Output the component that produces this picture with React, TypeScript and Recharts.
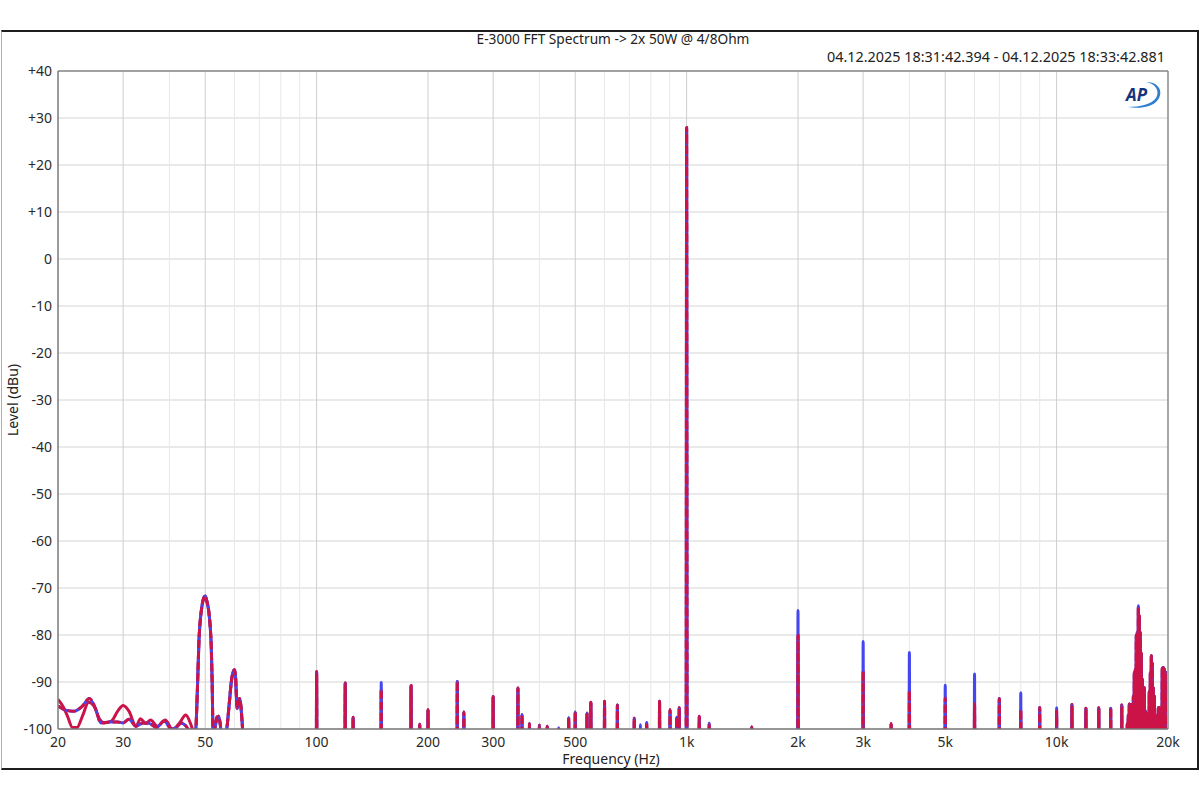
import React from 'react';
import { LineChart, Line, XAxis, YAxis, CartesianGrid, ReferenceLine } from 'recharts';

// ---- values ----
const freqTicks = [20, 30, 50, 100, 200, 300, 500, 1000, 2000, 3000, 5000, 10000, 20000];
const minorGridHz = [40, 60, 70, 80, 90, 400, 600, 700, 800, 900, 4000, 6000, 7000, 8000, 9000];
const majorGridHz = [30, 50, 100, 200, 300, 500, 1000, 2000, 3000, 5000, 10000];
const levelTicks = [-100, -90, -80, -70, -60, -50, -40, -30, -20, -10, 0, 10, 20, 30, 40];

// low frequency noise, solid trace
const lowSolidHz = [20, 20.6, 21.2, 21.9, 22.5, 23.3, 24.2, 25.0, 25.9, 26.7, 27.9, 29.0, 30.0, 31.1, 32.5, 33.4, 34.5, 35.6, 37.1, 39.0, 40.8, 42.6, 44.3, 45.9, 46.9];
const lowSolidDb = [-93.7, -95.1, -97.2, -99.7, -99.7, -97.2, -94.3, -95.1, -97.9, -98.7, -98.3, -96.2, -95.0, -96.2, -99.4, -97.8, -98.8, -98.1, -99.4, -98.1, -100.1, -98.7, -97.0, -99.4, -101.5];

// low frequency noise, dashed trace
const lowDashHz = [20, 21.0, 22.1, 23.3, 24.3, 25.3, 26.1, 27.6, 29.0, 30.0, 31.1, 32.5, 34.0, 35.3, 36.9, 38.7, 40.5, 41.7, 43.1, 44.4, 45.9];
const lowDashDb = [-95.1, -96.0, -96.2, -95.1, -93.5, -95.8, -98.7, -98.5, -98.5, -98.7, -97.9, -99.4, -98.7, -98.8, -99.7, -98.3, -100, -99.7, -98.7, -99.4, -101];

// mains hum lobes (50 / 60 Hz), same on all traces
const humHz = [47.1, 47.6, 48.1, 48.6, 49.0, 49.5, 50.0, 50.5, 51.1, 51.6, 51.9, 52.2, 52.5, 53.2, 53.8, 54.3, 54.9, 55.4,
  57.0, 58.0, 58.8, 59.4, 60.0, 60.4, 60.7, 61.0, 61.5, 61.9, 62.4, 62.9, 63.3];
const humDb = [-100.5, -92, -80.9, -76, -73.8, -72.2, -71.7, -72.8, -74.9, -78.5, -82.3, -90, -100.5, -99.5, -97.5, -97.3, -99, -102,
  -100.5, -95, -90, -88, -87.4, -89, -93, -95.6, -94.5, -93.5, -95, -98.5, -101.5];

// discrete lines: tone, harmonics, spurs
const toneHz = [100, 119.5, 125.5, 149.5, 180, 190, 200, 240, 250, 300, 350, 359, 376, 400, 420, 451, 480, 500, 538, 551,
  600, 650, 722, 750, 780, 845, 902, 940, 955, 1000, 1082, 1151, 1500, 2000, 3000, 3570, 4000, 5000, 6000, 7000, 8000, 9000,
  10000, 11000, 12000, 13000, 14000, 15000,
  15520, 15620, 15720, 15820, 15920, 16020, 16120, 16220, 16320, 16420, 16520, 16630, 16730, 16830, 16940, 17050, 17150,
  17260, 17370, 17470, 17580, 17800, 17920, 18030, 18140, 18250, 18370, 18480, 18710, 18830, 18950, 19070, 19300, 19420,
  19540, 19670];
const toneRedDb = [-87.8, -90.2, -97.5, -91.6, -90.8, -99, -95.9, -89.9, -96.4, -93.1, -91.3, -96.9, -98.9, -99.2, -99.4, -99.8, -97.6, -96.4, -96.6, -94.3,
  -94.1, -94.9, -97.7, -101, -98.6, -94.1, -95.9, -97.5, -95.5, 27.9, -97.3, -98.8, -99.6, -80.1, -87.7, -98.9, -91.9, -93.4, -94.7, -93.5, -95.9, -95.4,
  -96.2, -94.8, -95.6, -95.5, -95.6, -94.9,
  -98.9, -97, -94.7, -95, -94.8, -96, -93, -88, -87.3, -80, -79.4, -74.1, -76, -79.4, -84, -89.4, -91.5,
  -91.2, -96, -96.6, -99, -92, -88, -84.4, -86, -91.2, -93, -98, -97, -95.5, -95.4, -97, -87, -86.9,
  -87.2, -88];
const toneBlueDb = [-87.8, -90.2, -97.5, -90.1, -90.8, -99, -95.9, -89.9, -96.4, -93.1, -91.3, -96.9, -98.9, -99.2, -99.4, -99.8, -97.6, -96.4, -96.6, -94.3,
  -94.1, -94.9, -97.7, -99.1, -98.6, -94.1, -95.9, -97.5, -95.5, 27.9, -97.3, -98.8, -99.6, -74.8, -81.4, -98.9, -83.7, -90.7, -88.3, -93.5, -92.3, -95.4,
  -95.5, -94.8, -95.6, -95.5, -95.6, -94.9,
  -98.9, -97, -94.7, -95, -94.8, -96, -93, -88, -87.3, -80, -79.4, -73.8, -76, -79.4, -84, -89.4, -91.5,
  -91.2, -96, -96.6, -99, -92, -88, -84.4, -86, -91.2, -93, -98, -97, -95.5, -95.4, -97, -87, -86.9,
  -87.2, -88];

const FLOOR = -120; // below the visible range, lines get clipped
const SPIKE_W = 0.003;
const FONT = '"Noto Sans", "Open Sans", sans-serif';

type Pt = { hz: number; db: number };

function curve(hz: number[], db: number[]): Pt[] {
  return hz.map((f, i) => ({ hz: f, db: db[i] }));
}

function spikes(levels: number[]): Pt[] {
  const out: Pt[] = [];
  toneHz.forEach((f, i) => {
    out.push({ hz: f * (1 - SPIKE_W), db: FLOOR });
    out.push({ hz: f, db: levels[i] });
    out.push({ hz: f * (1 + SPIKE_W), db: FLOOR });
  });
  return out;
}

function build(low: Pt[], levels: number[]): Pt[] {
  return [...low, ...curve(humHz, humDb), ...spikes(levels)].sort((a, b) => a.hz - b.hz);
}

const redSolid = build(curve(lowSolidHz, lowSolidDb), toneRedDb);
const blueTrace = build(curve(lowDashHz, lowDashDb), toneBlueDb);
const redDashed = build(curve(lowDashHz, lowDashDb), toneRedDb);

const fmtHz = (v: number) => (v >= 1000 ? `${v / 1000}k` : `${v}`);
const fmtDb = (v: number) => (v > 0 ? `+${v}` : `${v}`);

const RED = '#cc1347';
const BLUE = '#4646f0';

export default function App() {
  return (
    <div style={{ position: 'absolute', left: 0, top: 0, width: 1200, height: 800, background: '#fff', fontFamily: FONT, color: '#222', overflow: 'hidden' }}>
      {/* window frame */}
      <div style={{ position: 'absolute', left: 1, top: 30, width: 1195, height: 736, borderTop: '2px solid #1e1e1e', borderRight: '2px solid #1e1e1e', borderBottom: '2px solid #1e1e1e', borderLeft: '1px solid #b0b0b0' }} />

      <div style={{ position: 'absolute', left: 0, top: 0 }}>
        <LineChart width={1200} height={800} margin={{ top: 71, right: 32, bottom: 41, left: 0 }}>
          <CartesianGrid vertical={false} stroke="#d4d4d4" />
          {minorGridHz.map((f) => (
            <ReferenceLine key={`mn${f}`} x={f} stroke="#e8e8e8" strokeWidth={1} zIndex={-50} />
          ))}
          {majorGridHz.map((f) => (
            <ReferenceLine key={`mj${f}`} x={f} stroke="#cdcdcd" strokeWidth={1} zIndex={-50} />
          ))}
          <ReferenceLine y={40} stroke="#8a8a8a" strokeWidth={1.5} zIndex={-50} />
          <ReferenceLine x={20000} stroke="#8a8a8a" strokeWidth={1.5} zIndex={-50} />
          <XAxis
            dataKey="hz"
            type="number"
            scale="log"
            domain={[20, 20000]}
            allowDataOverflow
            ticks={freqTicks}
            tickFormatter={fmtHz}
            interval={0}
            height={30}
            tickLine={false}
            tickSize={6}
            tickMargin={2}
            axisLine={{ stroke: '#7a7a7a', strokeWidth: 1.5 }}
            tick={{ fontSize: 14, fill: '#2a2a2a', fontFamily: FONT }}
          />
          <YAxis
            type="number"
            domain={[-100, 40]}
            allowDataOverflow
            ticks={levelTicks}
            tickFormatter={fmtDb}
            interval={0}
            width={58}
            tickLine={false}
            tickSize={6}
            tickMargin={0}
            axisLine={{ stroke: '#7a7a7a', strokeWidth: 1.5 }}
            tick={{ fontSize: 14, fill: '#2a2a2a', fontFamily: FONT }}
          />
          <Line data={redSolid} dataKey="db" type="monotoneX" stroke={RED} strokeWidth={3} dot={false} activeDot={false} isAnimationActive={false} />
          <Line data={blueTrace} dataKey="db" type="monotoneX" stroke={BLUE} strokeWidth={3} dot={false} activeDot={false} isAnimationActive={false} />
          <Line data={redDashed} dataKey="db" type="monotoneX" stroke={RED} strokeWidth={3} strokeDasharray="8 3" dot={false} activeDot={false} isAnimationActive={false} />
        </LineChart>
      </div>

      <div style={{ position: 'absolute', left: 413, top: 30, width: 400, textAlign: 'center', fontSize: 13.7, lineHeight: '17px', whiteSpace: 'nowrap' }}>
        E-3000 FFT Spectrum -&gt; 2x 50W @ 4/8Ohm
      </div>
      <div style={{ position: 'absolute', right: 35, top: 48, fontSize: 14.4, lineHeight: '17px', whiteSpace: 'nowrap' }}>
        04.12.2025 18:31:42.394 - 04.12.2025 18:33:42.881
      </div>
      <div style={{ position: 'absolute', left: 12, top: 400, transform: 'translate(-50%, -50%) rotate(-90deg)', fontSize: 14, lineHeight: '17px', whiteSpace: 'nowrap' }}>
        Level (dBu)
      </div>
      <div style={{ position: 'absolute', left: 511, top: 752, width: 200, textAlign: 'center', fontSize: 14, lineHeight: '14px', whiteSpace: 'nowrap' }}>
        Frequency (Hz)
      </div>

      {/* AP logo */}
      <svg width={44} height={32} style={{ position: 'absolute', left: 1122, top: 79 }}>
        <path d="M24 3 C 38 3, 42 14, 35 22 C 30 28, 18 30, 6 28 C 18 28, 30 25, 34 19 C 38 12, 34 5, 24 3 Z" fill="#2f7fd0" />
        <text x={4} y={22} fontSize={17} fontWeight={700} fontStyle="italic" fill="#16337a" fontFamily={FONT}>AP</text>
      </svg>
    </div>
  );
}
